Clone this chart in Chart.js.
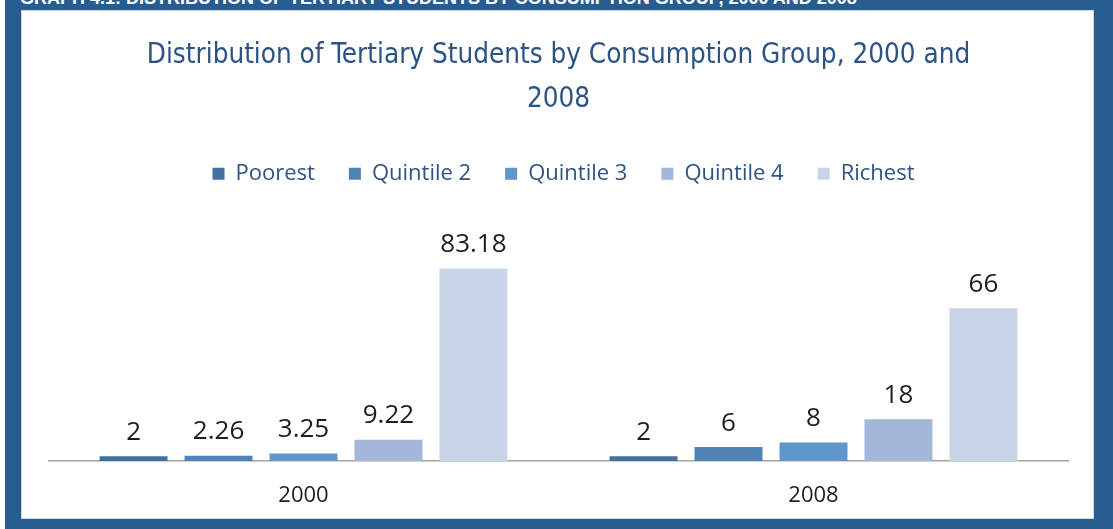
<!DOCTYPE html>
<html>
<head>
<meta charset="utf-8">
<title>Distribution of Tertiary Students by Consumption Group</title>
<script src="https://cdn.jsdelivr.net/npm/chart.js@4.4.1/dist/chart.umd.min.js"></script>
<style>
  html, body { margin: 0; padding: 0; background: #fff; }
  #frame {
    position: absolute; left: 5px; top: 0; width: 1108px; height: 529px;
    background: #285c91; overflow: hidden;
  }
  #caption {
    position: absolute; left: 15px; top: -12px; white-space: nowrap;
    font: bold 18px "Liberation Sans", Arial, sans-serif; color: #fff;
  }
  #panel {
    position: absolute; left: 16px; top: 10px; width: 1073px; height: 509px;
    background: #fff; box-shadow: inset 0 0 0 1px #c9d6e6;
  }
</style>
</head>
<body>
<div id="frame">
  <div id="caption">GRAPH 4.1: DISTRIBUTION OF TERTIARY STUDENTS BY CONSUMPTION GROUP, 2000 AND 2008</div>
  <div id="panel"><canvas id="myChart" width="1073" height="509"></canvas></div>
</div>
<script>
const years = ['2000', '2008'];
const groups = ['Poorest', 'Quintile 2', 'Quintile 3', 'Quintile 4', 'Richest'];
const poorest = [2, 2];
const quintile2 = [2.26, 6];
const quintile3 = [3.25, 8];
const quintile4 = [9.22, 18];
const richest = [83.18, 66];
const colors = ['#41719f', '#5083b6', '#6196ca', '#a3b7d9', '#c8d4e8'];

const series = [poorest, quintile2, quintile3, quintile4, richest];

// writes each bar's value above it
const barValues = {
  id: 'barValues',
  afterDatasetsDraw(chart) {
    const c = chart.ctx;
    c.save();
    c.font = '26px "Open Sans", sans-serif';
    c.fillStyle = '#1e1e1e';
    c.textAlign = 'center';
    c.textBaseline = 'middle';
    chart.data.datasets.forEach((ds, i) => {
      chart.getDatasetMeta(i).data.forEach((bar, j) => {
        c.fillText(String(ds.data[j]), bar.x, bar.y - 24);
      });
    });
    c.restore();
  }
};

// nudge the legend row a little to the right
const legendShift = {
  id: 'legendShift',
  afterLayout(chart) {
    chart.legend.left += 5;
    chart.legend.right += 5;
  }
};

const ctx = document.getElementById('myChart');

new Chart(ctx, {
  type: 'bar',
  data: {
    labels: years,
    datasets: groups.map((g, i) => ({
      label: g,
      data: series[i],
      backgroundColor: colors[i],
      categoryPercentage: 0.833,
      barPercentage: 0.8
    }))
  },
  options: {
    responsive: false,
    animation: false,
    layout: { padding: { left: 27.5, right: 25.5, top: 0, bottom: 13 } },
    plugins: {
      title: {
        display: true,
        text: ['Distribution of Tertiary Students by Consumption Group, 2000 and', '2008'],
        color: '#2b5384',
        font: { family: '"DejaVu Sans Condensed", sans-serif', size: 27.6, weight: 'normal', lineHeight: 1.6 },
        padding: { top: 24, bottom: 6.5 }
      },
      legend: {
        labels: {
          boxWidth: 12,
          boxHeight: 12,
          padding: 34,
          color: '#2f5382',
          font: { family: '"Open Sans", sans-serif', size: 22 }
        }
      },
      tooltip: { enabled: false }
    },
    scales: {
      x: {
        grid: { display: false, drawTicks: false },
        border: { display: true, color: '#a3a3a3', width: 1.5 },
        ticks: { color: '#1e1e1e', padding: 22, font: { family: '"Open Sans", sans-serif', size: 22 } },
        afterFit(scale) { scale.height = 45; }
      },
      y: {
        display: false,
        min: 0,
        max: 115
      }
    }
  },
  plugins: [barValues, legendShift]
});
</script>
</body>
</html>
